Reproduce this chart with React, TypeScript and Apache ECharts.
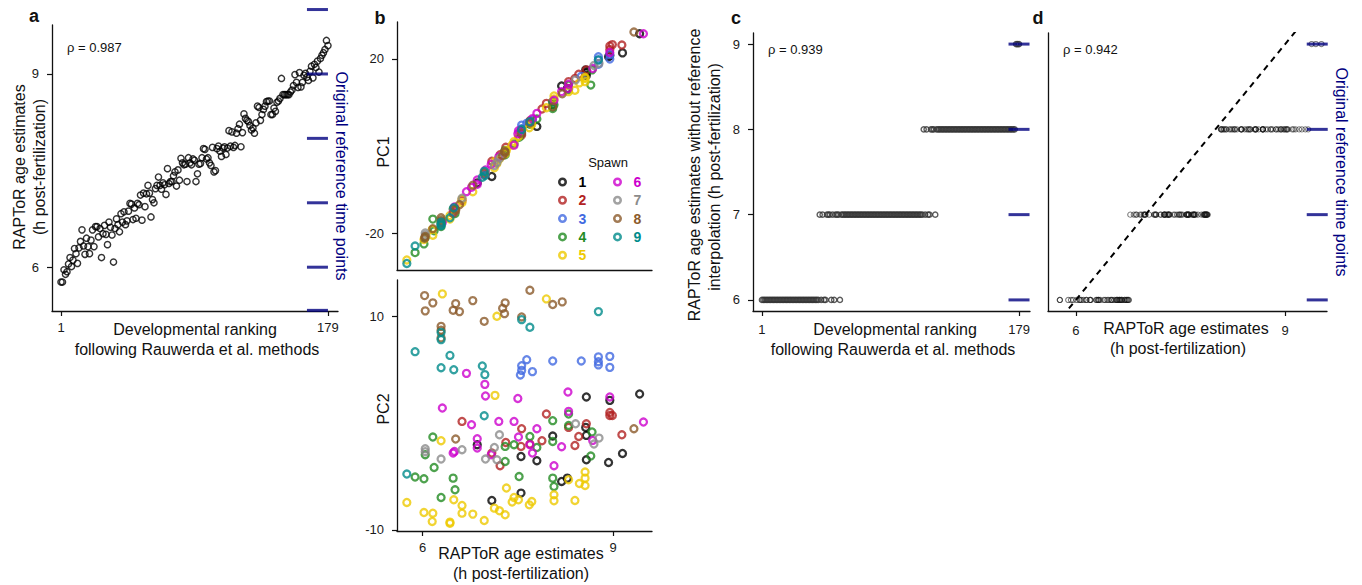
import React, { useEffect, useRef } from 'react';
import * as echarts from 'echarts';

const FONT = '"Liberation Sans", Arial, Helvetica, sans-serif';
const NAVY = '#000080';
const INK = '#111111';

// RAPToR age estimates (h post-fertilization), samples in developmental-ranking order 1..179
const raptorAge = [
  5.77, 5.77, 5.96, 5.89, 5.93, 6.05, 6.15, 6.01, 6.11, 6.29,
  6.21, 6.06, 6.30, 6.40, 6.58, 6.33, 6.20, 6.45, 6.32, 6.21,
  6.42, 6.58, 6.32, 6.63, 6.63, 6.47, 6.60, 6.15, 6.52, 6.65,
  6.51, 6.35, 6.70, 6.62, 6.50, 6.08, 6.60, 6.75, 6.66, 6.55,
  6.83, 6.70, 6.86, 6.66, 6.72, 6.87, 6.99, 6.98, 6.74, 6.92,
  6.76, 6.99, 6.97, 7.12, 6.73, 7.15, 6.94, 7.14, 7.27, 7.15,
  6.78, 7.05, 7.00, 7.22, 7.27, 7.40, 7.27, 7.21, 7.31, 7.28,
  7.13, 7.53, 7.30, 7.33, 7.33, 7.42, 7.48, 7.26, 7.51, 7.35,
  7.69, 7.62, 7.59, 7.60, 7.33, 7.70, 7.62, 7.59, 7.68, 7.66,
  7.33, 7.45, 7.60, 7.61, 7.70, 7.84, 7.83, 7.68, 7.70, 7.62,
  7.58, 7.86, 7.48, 7.50, 7.84, 7.88, 7.80, 7.72, 7.85, 7.87,
  7.75, 7.85, 8.12, 7.88, 8.10, 7.86, 7.89, 8.08, 8.15, 8.22,
  7.87, 8.09, 8.38, 8.31, 8.28, 8.26, 8.20, 8.13, 8.16, 8.08,
  8.24, 8.50, 8.48, 8.28, 8.37, 8.45, 8.50, 8.57, 8.58, 8.58,
  8.37, 8.37, 8.47, 8.42, 8.56, 8.58, 8.62, 8.93, 8.68, 8.68,
  8.68, 8.68, 8.68, 8.72, 8.75, 8.82, 8.99, 8.87, 8.79, 9.02,
  8.80, 8.87, 8.98, 9.01, 8.95, 8.90, 9.04, 9.12, 8.94, 9.15,
  9.10, 9.20, 9.03, 9.24, 9.29, 9.33, 9.38, 9.52, 9.44,
];

// Estimates without reference interpolation (h), same ranking order
const noInterpAge = [
  6, 6, 6, 6, 6, 6, 6, 6, 6, 6,
  6, 6, 6, 6, 6, 6, 6, 6, 6, 6,
  6, 6, 6, 6, 6, 6, 6, 6, 6, 6,
  6, 6, 6, 6, 6, 6, 6, 6, 6, 6,
  7, 6, 7, 6, 6, 7, 7, 7, 6, 7,
  6, 7, 7, 7, 6, 7, 7, 7, 7, 7,
  7, 7, 7, 7, 7, 7, 7, 7, 7, 7,
  7, 7, 7, 7, 7, 7, 7, 7, 7, 7,
  7, 7, 7, 7, 7, 7, 7, 7, 7, 7,
  7, 7, 7, 7, 7, 7, 7, 7, 7, 7,
  7, 7, 7, 7, 7, 7, 7, 7, 7, 7,
  7, 7, 8, 7, 8, 7, 7, 8, 8, 8,
  7, 8, 8, 8, 8, 8, 8, 8, 8, 8,
  8, 8, 8, 8, 8, 8, 8, 8, 8, 8,
  8, 8, 8, 8, 8, 8, 8, 8, 8, 8,
  8, 8, 8, 8, 8, 8, 8, 8, 8, 8,
  8, 8, 8, 8, 8, 8, 8, 8, 8, 8,
  8, 8, 8, 8, 8, 8, 9, 9, 9,
];

const rankTicks = [1, 179];
const ageTicks = [6, 9];
const levelTicks = [6, 7, 8, 9];
const pc1Ticks = [-20, 20];
const pc2Ticks = [-10, 10];

// Original reference time points (h)
const refTimesA = [5.33, 6, 7, 8, 9, 10];
const refTimesCD = [6, 7, 8, 9];

// Spawn samples: [RAPToR age (h), PC1, PC2]
const spawn1 = [
  [6.86, -8.5, -2.02], [7.55, 3.5, -3.12], [7.80, 4.5, -3.52], [8.05, 9.5, -1.21],
  [8.57, 17.5, -0.40], [8.58, 16.8, -1.15], [8.58, 16.2, -3.43], [8.93, 20.5, -3.68],
  [9.15, 21.4, -2.84], [8.19, 13.8, -5.46], [8.28, 13.2, -5.15], [7.09, -7.0, -7.24],
  [7.55, 2.8, -6.55], [8.58, 17.0, 2.45], [8.95, 20.8, 2.13], [9.42, 25.8, 2.73],
];
const spawn2 = [
  [6.62, -12.5, 0.16], [7.56, 2.5, -0.52], [7.31, -0.3, -1.81], [7.55, 3.0, -2.18],
  [7.09, -3.5, -2.80], [7.22, -2.0, -3.99], [7.95, 9.8, 0.85], [8.58, 17.5, -0.06],
  [8.30, 14.8, -0.40], [8.95, 23.0, 0.72], [8.99, 23.3, 0.72], [8.95, 22.2, 1.00],
  [9.14, 23.2, -1.09], [8.40, 15.5, -2.09], [8.46, 16.5, -1.25], [7.88, 8.5, -1.65],
  [7.69, 5.8, -1.96],
];
const spawn3 = [
  [7.56, 4.0, 5.38], [7.56, 4.8, 4.94], [7.54, 3.2, 4.51], [7.64, 5.2, 5.94],
  [7.73, 6.0, 4.82], [8.05, 10.0, 5.82], [8.50, 16.0, 5.82], [8.77, 20.5, 6.20],
  [8.77, 19.8, 5.75], [8.77, 18.8, 5.45], [8.95, 20.0, 6.25], [8.95, 21.0, 5.22],
];
const spawn4 = [
  [6.16, -16.8, -1.30], [6.04, -21.0, -2.96], [6.18, -19.5, -4.15], [5.88, -24.5, -5.05],
  [6.02, -22.5, -5.21], [6.48, -14.5, -5.15], [6.51, -15.5, -6.24], [6.29, -18.5, -6.96],
  [7.30, -1.0, -2.18], [7.44, 0.5, -2.02], [7.30, -2.0, -3.59], [7.52, 2.0, -5.00],
  [7.69, 5.0, -1.25], [7.80, 6.2, -2.28], [8.05, 9.0, 0.23], [8.05, 10.2, -1.72],
  [8.05, 8.6, -5.15], [8.07, 9.5, -5.93], [8.30, 13.0, 0.85], [8.30, 14.0, -0.22],
  [8.67, 17.5, -0.83], [8.65, 14.0, -3.08],
];
const spawn5 = [
  [6.31, -17.0, 12.10], [7.17, -4.0, 10.00], [7.95, 8.8, 11.63], [7.14, -3.5, 2.60],
  [6.29, -17.5, -1.65], [5.75, -26.2, -7.43], [6.02, -21.5, -8.37], [6.16, -20.5, -8.43],
  [6.15, -19.2, -9.21], [6.43, -16.8, -9.27], [6.43, -16.0, -9.38], [6.49, -15.0, -7.18],
  [6.62, -13.0, -7.71], [6.62, -12.2, -8.43], [6.79, -10.5, -8.52], [6.97, -6.5, -9.12],
  [7.13, -5.0, -7.96], [7.21, -3.0, -8.21], [7.30, -1.8, -8.58], [7.32, -1.0, -6.08],
  [7.41, 0.2, -7.39], [7.44, 1.0, -6.96], [7.51, 2.2, -7.18], [8.30, 12.5, -5.30],
  [8.56, 15.5, -4.58], [8.56, 14.8, -5.15], [8.56, 15.8, -5.84], [8.47, 14.5, -5.65],
  [8.07, 10.8, -6.71], [8.07, 11.5, -7.27], [8.40, 12.8, -7.24], [7.72, 5.0, -7.34],
  [7.68, 4.2, -7.65],
];
const spawn6 = [
  [6.69, -10.5, 4.66], [6.98, -6.5, 3.63], [6.99, -5.5, 2.54], [7.50, 2.8, 2.31],
  [6.31, -17.5, 1.41], [8.29, 13.2, 2.91], [8.95, 21.5, 2.45], [9.48, 25.8, 0.10],
  [6.77, -9.5, -0.15], [7.20, -2.5, 0.16], [7.44, 0.2, 0.16], [6.86, -7.8, -1.46],
  [6.86, -8.8, -2.33], [6.50, -14.0, -2.65], [6.48, -15.2, -2.80], [7.51, 3.5, -1.30],
  [7.08, -4.2, -2.96], [8.30, 14.2, 1.10], [7.80, 7.5, -0.52], [7.69, 5.5, -2.02],
  [7.73, 6.3, -2.80], [8.19, 12.5, -2.21], [8.07, 10.5, -3.99], [8.68, 17.8, -1.62],
];
const spawn7 = [
  [6.04, -20.5, -2.40], [6.04, -20.0, -2.68], [6.29, -17.0, -3.36], [6.62, -12.0, -2.49],
  [6.99, -6.0, -3.36], [7.17, -3.8, -3.43], [7.21, -2.8, -1.09], [7.13, -4.5, -2.28],
  [8.41, 15.2, -0.06], [8.78, 19.0, -1.40], [8.70, 18.5, -1.96],
];
const spawn8 = [
  [6.03, -21.2, 11.94], [6.16, -19.0, 11.26], [6.04, -20.8, 10.51], [6.52, -14.5, 11.19],
  [6.48, -15.5, 10.56], [6.58, -13.5, 10.44], [6.79, -9.0, 11.47], [6.97, -6.2, 9.53],
  [7.30, -1.5, 11.26], [7.26, -2.2, 10.75], [7.29, -1.2, 10.25], [7.56, 3.0, 9.94],
  [6.29, -16.5, 9.06], [6.29, -17.2, 8.69], [6.29, -17.8, 7.98], [7.69, 5.3, 12.44],
  [8.05, 9.0, 11.10], [8.20, 12.0, 11.35], [6.52, -14.8, -1.49], [9.33, 26.2, -0.52],
];
const spawn9 = [
  [6.29, -17.5, 8.50], [6.29, -18.0, 7.82], [7.56, 3.8, 9.69], [7.69, 5.6, 8.97],
  [8.77, 19.8, 10.44], [5.88, -23.0, 6.69], [6.43, -16.5, 6.34], [6.29, -18.3, 5.19],
  [6.49, -14.2, 5.00], [6.94, -7.2, 5.35], [6.98, -6.8, 4.54], [6.97, -5.8, 0.69],
  [5.75, -27.0, -4.77],
];

const spawnNames = ['1', '2', '3', '4', '5', '6', '7', '8', '9'];
const spawnColors = [
  '#000000', '#b22222', '#4169e1', '#228b22', '#eec900',
  '#cd00cd', '#8b8b8b', '#8b5a2b', '#008b8b',
];
const spawnData = [spawn1, spawn2, spawn3, spawn4, spawn5, spawn6, spawn7, spawn8, spawn9];

const ranks = raptorAge.map((_, i) => i + 1);

// Ring-shaped legend icon (filled annulus)
const RING_ICON =
  'path://M0,-5A5,5,0,1,1,0,5A5,5,0,1,1,0,-5ZM0,-2.2A2.2,2.2,0,1,0,0,2.2A2.2,2.2,0,1,0,0,-2.2Z';

function valueAxis(grid: number, min: number, max: number, ticks: number[] | null, margin: number, extra: any = {}) {
  return {
    type: 'value',
    gridIndex: grid,
    min,
    max,
    axisLine: { show: true, onZero: false, lineStyle: { color: INK, width: 1.3 } },
    axisTick: ticks
      ? { show: true, customValues: ticks, length: 5, lineStyle: { color: INK, width: 1.2 } }
      : { show: false },
    axisLabel: ticks
      ? { show: true, customValues: ticks, margin, color: '#1a1a1a', fontSize: 13, fontFamily: FONT }
      : { show: false },
    splitLine: { show: false },
    ...extra,
  };
}

function txt(text: string, x: number, y: number, opts: any = {}) {
  const { rotation = 0, size = 16, weight = 'normal', color = INK, align = 'center' } = opts;
  return {
    type: 'text',
    x,
    y,
    rotation,
    silent: true,
    style: {
      text,
      fill: color,
      font: `${weight} ${size}px ${FONT}`,
      align,
      verticalAlign: 'middle',
      textAlign: align,
      textVerticalAlign: 'middle',
    },
  };
}

function buildOption() {
  const hollow = (color: string, width: number) => ({ color: 'rgba(0,0,0,0)', borderColor: color, borderWidth: width });
  const refMark = (xi: number, yi: number, data: number[][]) => ({
    type: 'scatter',
    xAxisIndex: xi,
    yAxisIndex: yi,
    data,
    symbol: 'rect',
    symbolSize: [21, 3],
    itemStyle: { color: NAVY },
    clip: false,
    silent: true,
    z: 5,
  });

  const series: any[] = [];

  // a: RAPToR age against developmental ranking
  series.push({
    type: 'scatter',
    xAxisIndex: 0,
    yAxisIndex: 0,
    data: ranks.map((r, i) => [r, raptorAge[i]]),
    symbol: 'circle',
    symbolSize: 6.2,
    itemStyle: hollow('#000', 1.45),
    silent: true,
  });
  series.push(refMark(0, 0, refTimesA.map((v) => [172, v])));

  // b: PC1 / PC2 against RAPToR age, coloured by spawn
  spawnData.forEach((rows, k) => {
    series.push({
      type: 'scatter',
      name: spawnNames[k],
      xAxisIndex: 1,
      yAxisIndex: 1,
      data: rows.map((d) => [d[0], d[1]]),
      symbol: 'circle',
      symbolSize: 7,
      itemStyle: hollow(spawnColors[k], 2.3),
      silent: true,
    });
  });
  spawnData.forEach((rows, k) => {
    series.push({
      type: 'scatter',
      name: spawnNames[k],
      xAxisIndex: 2,
      yAxisIndex: 2,
      data: rows.map((d) => [d[0], d[2]]),
      symbol: 'circle',
      symbolSize: 7,
      itemStyle: hollow(spawnColors[k], 2.3),
      silent: true,
    });
  });

  // c: estimates without interpolation against ranking
  series.push({
    type: 'scatter',
    xAxisIndex: 3,
    yAxisIndex: 3,
    data: ranks.map((r, i) => [r, noInterpAge[i]]),
    symbol: 'circle',
    symbolSize: 5.2,
    itemStyle: hollow('#333333', 1.4),
    silent: true,
  });
  series.push(refMark(3, 3, refTimesCD.map((v) => [179, v])));

  // d: estimates without interpolation against RAPToR age, with identity line
  series.push({
    type: 'line',
    xAxisIndex: 4,
    yAxisIndex: 4,
    data: [[5.6, 5.6], [9.6, 9.6]],
    showSymbol: false,
    symbol: 'none',
    lineStyle: { color: '#000', width: 2, type: [6, 5] },
    clip: true,
    silent: true,
  });
  series.push({
    type: 'scatter',
    xAxisIndex: 4,
    yAxisIndex: 4,
    data: raptorAge.map((a, i) => [a, noInterpAge[i]]),
    symbol: 'circle',
    symbolSize: 5.2,
    itemStyle: { color: 'rgba(0,0,0,0)', borderColor: 'rgba(20,20,20,0.7)', borderWidth: 1.1 },
    silent: true,
  });
  series.push(refMark(4, 4, refTimesCD.map((v) => [9.46, v])));

  const legendItems = (names: string[], offset: number) =>
    names.map((n, i) => ({
      name: n,
      icon: RING_ICON,
      itemStyle: { color: spawnColors[offset + i], borderWidth: 0 },
      textStyle: { color: spawnColors[offset + i] },
    }));
  const legendBase = {
    orient: 'vertical',
    top: 175,
    itemWidth: 22,
    itemHeight: 9,
    itemGap: 4.3,
    selectedMode: false,
    padding: 0,
    textStyle: { fontSize: 14, fontWeight: 'bold', fontFamily: FONT },
  };

  const graphics = [
    txt('a', 34, 16, { size: 18, weight: 'bold' }),
    txt('b', 380, 17.5, { size: 18, weight: 'bold' }),
    txt('c', 736, 17.5, { size: 18, weight: 'bold' }),
    txt('d', 1038, 17.5, { size: 18, weight: 'bold' }),

    txt('ρ = 0.987', 67, 47, { size: 13, align: 'left' }),
    txt('ρ = 0.939', 768, 49, { size: 13, align: 'left' }),
    txt('ρ = 0.942', 1063, 49, { size: 13, align: 'left' }),

    txt('RAPToR age estimates', 19, 167, { rotation: Math.PI / 2 }),
    txt('(h post-fertilization)', 39, 167, { rotation: Math.PI / 2 }),
    txt('Developmental ranking', 195, 329),
    txt('following Rauwerda et al. methods', 197, 349),
    txt('Original reference time points', 341, 176, { rotation: -Math.PI / 2, color: NAVY }),

    txt('PC1', 383, 152, { rotation: Math.PI / 2 }),
    txt('PC2', 383, 409, { rotation: Math.PI / 2 }),
    txt('RAPToR age estimates', 521, 553),
    txt('(h post-fertilization)', 521, 573),
    txt('Spawn', 608, 162, { size: 13 }),

    txt('RAPToR age estimates without reference', 694, 175, { rotation: Math.PI / 2 }),
    txt('interpolation (h post-fertilization)', 714, 177, { rotation: Math.PI / 2 }),
    txt('Developmental ranking', 895, 329),
    txt('following Rauwerda et al. methods', 893, 349),

    txt('RAPToR age estimates', 1186, 328),
    txt('(h post-fertilization)', 1178, 348),
    txt('Original reference time points', 1341, 172, { rotation: -Math.PI / 2, color: NAVY }),
  ];

  return {
    animation: false,
    backgroundColor: '#ffffff',
    textStyle: { fontFamily: FONT },
    grid: [
      { left: 52, top: 25, width: 286, height: 286 },
      { left: 397, top: 22, width: 255, height: 248 },
      { left: 397, top: 280, width: 255, height: 251 },
      { left: 753, top: 33, width: 277, height: 278 },
      { left: 1048, top: 33, width: 279, height: 278 },
    ],
    xAxis: [
      valueAxis(0, -5, 185.7, rankTicks, 10),
      valueAxis(1, 5.595, 9.615, null, 8),
      valueAxis(2, 5.595, 9.615, ageTicks, 10),
      valueAxis(3, -5.2, 186.6, rankTicks, 12),
      valueAxis(4, 5.6, 9.6, ageTicks, 13),
    ],
    yAxis: [
      valueAxis(0, 5.32, 9.76, ageTicks, 13),
      valueAxis(1, -28.5, 28.5, pc1Ticks, 13),
      valueAxis(2, -10.1, 13.4, pc2Ticks, 13),
      valueAxis(3, 5.87, 9.13, levelTicks, 13),
      valueAxis(4, 5.87, 9.13, null, 8),
    ],
    legend: [
      { ...legendBase, left: 558, data: legendItems(spawnNames.slice(0, 5), 0) },
      { ...legendBase, left: 613, data: legendItems(spawnNames.slice(5), 5) },
    ],
    graphic: graphics,
    series,
  };
}

export default function App() {
  const ref = useRef<HTMLDivElement>(null);
  useEffect(() => {
    if (!ref.current) return;
    const chart = echarts.init(ref.current, null, { renderer: 'svg' });
    chart.setOption(buildOption() as any);
    return () => {
      chart.dispose();
    };
  }, []);
  return (
    <div
      ref={ref}
      style={{ position: 'absolute', left: 0, top: 0, width: 1362, height: 585, background: '#fff' }}
    />
  );
}
